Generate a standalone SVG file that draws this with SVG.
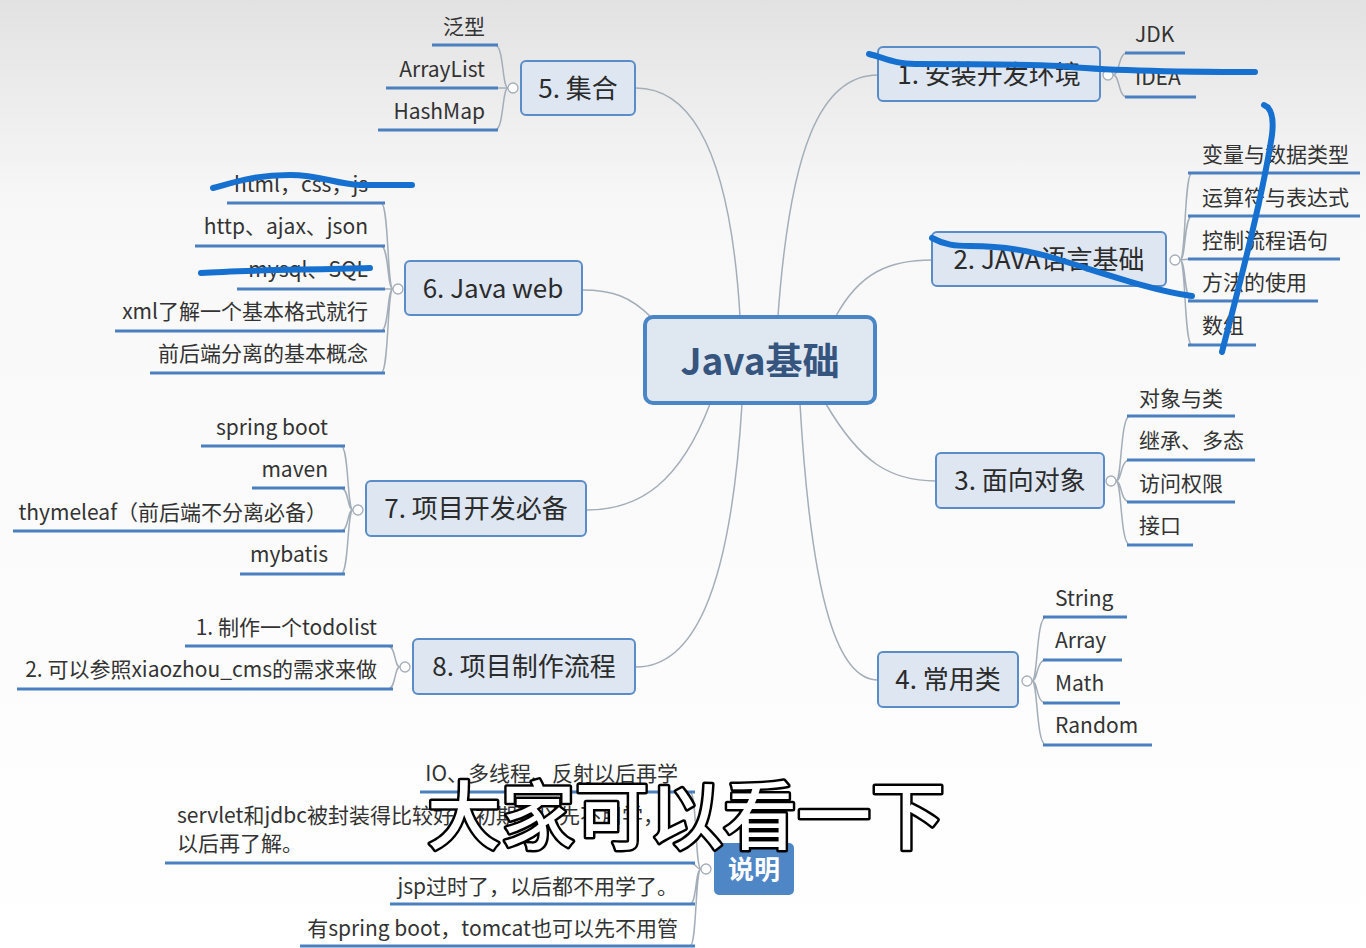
<svg xmlns="http://www.w3.org/2000/svg" width="1366" height="948" viewBox="0 0 1366 948">
<defs>
<linearGradient id="bg" x1="0" y1="0" x2="0" y2="1">
<stop offset="0" stop-color="#e2e2e2"/>
<stop offset="0.22" stop-color="#f8f8f8"/>
<stop offset="1" stop-color="#ffffff"/>
</linearGradient>
<style>
.main rect{fill:#dde6f1;stroke:#5a8dc8;stroke-width:2}
.mt{font-family:"Noto Sans CJK SC","Noto Sans",sans-serif;font-size:26px;fill:#2b2b2b;text-anchor:middle}
.lf{font-family:"Noto Sans CJK SC","Noto Sans",sans-serif;font-size:21px;fill:#333}
.e{text-anchor:end}
.ul{stroke:#4a7fc0;stroke-width:3;fill:none}
.br{stroke:#a4aeb9;stroke-width:1.5;fill:none}
.cn{stroke:#a4aeb9;stroke-width:1.5;fill:none}
.ci{fill:#fff;stroke:#a4aeb9;stroke-width:1.3}
.scr{stroke:#1570d0;stroke-width:6;fill:none;stroke-linecap:round;stroke-linejoin:round}
</style>
</defs>
<rect width="1366" height="948" fill="url(#bg)"/>

<g id="connectors">
<path class="cn" d="M778,316 C790,150 820,75 878,75"/>
<path class="cn" d="M836,316 C860,272 890,260 932,260"/>
<path class="cn" d="M826,404 C860,462 890,481 936,481"/>
<path class="cn" d="M800,404 C812,610 840,680 878,680"/>
<path class="cn" d="M740,316 C730,150 690,88 636,88"/>
<path class="cn" d="M652,318 C630,296 612,290 582,290"/>
<path class="cn" d="M710,404 C680,482 640,510 587,510"/>
<path class="cn" d="M742,404 C730,600 690,667 636,667"/>
</g>

<g id="center">
<rect x="645" y="317" width="230" height="86" rx="8" fill="#dfe7f1" stroke="#4a86c5" stroke-width="4"/>
<text x="760" y="375" font-family="Noto Sans CJK SC,Noto Sans,sans-serif" font-size="37" font-weight="bold" fill="#35557f" text-anchor="middle">Java基础</text>
</g>

<g id="n1" class="main">
<rect x="878" y="47" width="222" height="54" rx="5"/>
<text class="mt" x="989" y="84">1. 安装开发环境</text>
<circle class="ci" cx="1108" cy="75" r="5"/>
<path class="br" d="M1113,75 C1120,75 1118,53 1127,53 M1113,75 C1120,75 1118,97 1127,97"/>
<text class="lf" x="1135" y="42">JDK</text><path class="ul" d="M1125,53 H1185"/>
<text class="lf" x="1135" y="85">IDEA</text><path class="ul" d="M1125,97 H1196"/>
</g>

<g id="n2" class="main">
<rect x="932" y="232" width="234" height="54" rx="5"/>
<text class="mt" x="1049" y="269">2. JAVA语言基础</text>
<circle class="ci" cx="1175" cy="260" r="5"/>
<path class="br" d="M1180,260 C1186,260 1184,173 1192,173 M1180,260 C1186,260 1184,216 1192,216 M1180,260 C1186,260 1184,259 1192,259 M1180,260 C1186,260 1184,301 1192,301 M1180,260 C1186,260 1184,345 1192,345"/>
<text class="lf" x="1202" y="162">变量与数据类型</text><path class="ul" d="M1188,173 H1360"/>
<text class="lf" x="1202" y="205">运算符与表达式</text><path class="ul" d="M1188,216 H1360"/>
<text class="lf" x="1202" y="248">控制流程语句</text><path class="ul" d="M1188,259 H1340"/>
<text class="lf" x="1202" y="290">方法的使用</text><path class="ul" d="M1188,301 H1318"/>
<text class="lf" x="1202" y="333">数组</text><path class="ul" d="M1188,345 H1256"/>
</g>

<g id="n3" class="main">
<rect x="936" y="453" width="168" height="55" rx="5"/>
<text class="mt" x="1020" y="490">3. 面向对象</text>
<circle class="ci" cx="1111" cy="481" r="5"/>
<path class="br" d="M1116,481 C1122,481 1120,416 1130,416 M1116,481 C1122,481 1120,460 1130,460 M1116,481 C1122,481 1120,502 1130,502 M1116,481 C1122,481 1120,545 1130,545"/>
<text class="lf" x="1139" y="406">对象与类</text><path class="ul" d="M1127,416 H1235"/>
<text class="lf" x="1139" y="448">继承、多态</text><path class="ul" d="M1127,460 H1255"/>
<text class="lf" x="1139" y="491">访问权限</text><path class="ul" d="M1127,502 H1235"/>
<text class="lf" x="1139" y="533">接口</text><path class="ul" d="M1127,545 H1193"/>
</g>

<g id="n4" class="main">
<rect x="878" y="652" width="140" height="55" rx="5"/>
<text class="mt" x="948" y="689">4. 常用类</text>
<circle class="ci" cx="1027" cy="681" r="5"/>
<path class="br" d="M1032,681 C1038,681 1036,617 1046,617 M1032,681 C1038,681 1036,660 1046,660 M1032,681 C1038,681 1036,703 1046,703 M1032,681 C1038,681 1036,745 1046,745"/>
<text class="lf" x="1055" y="606">String</text><path class="ul" d="M1043,617 H1127"/>
<text class="lf" x="1055" y="648">Array</text><path class="ul" d="M1043,660 H1122"/>
<text class="lf" x="1055" y="691">Math</text><path class="ul" d="M1043,703 H1120"/>
<text class="lf" x="1055" y="733">Random</text><path class="ul" d="M1043,745 H1152"/>
</g>

<g id="n5" class="main">
<rect x="521" y="61" width="114" height="54" rx="5"/>
<text class="mt" x="578" y="98">5. 集合</text>
<circle class="ci" cx="513" cy="88" r="5"/>
<path class="br" d="M508,88 C502,88 504,45 495,45 M508,88 C502,88 504,88 495,88 M508,88 C502,88 504,130 495,130"/>
<text class="lf e" x="485" y="34">泛型</text><path class="ul" d="M432,45 H498"/>
<text class="lf e" x="485" y="77">ArrayList</text><path class="ul" d="M386,88 H498"/>
<text class="lf e" x="485" y="119">HashMap</text><path class="ul" d="M378,130 H498"/>
</g>

<g id="n6" class="main">
<rect x="405" y="261" width="177" height="54" rx="5"/>
<text class="mt" x="493" y="298">6. Java web</text>
<circle class="ci" cx="398" cy="289" r="5"/>
<path class="br" d="M393,289 C387,289 389,203 381,203 M393,289 C387,289 389,246 381,246 M393,289 C387,289 389,289 381,289 M393,289 C387,289 389,331 381,331 M393,289 C387,289 389,373 381,373"/>
<text class="lf e" x="368" y="192">html，css，js</text><path class="ul" d="M227,203 H385"/>
<text class="lf e" x="368" y="234">http、ajax、json</text><path class="ul" d="M195,246 H385"/>
<text class="lf e" x="368" y="277">mysql、SQL</text><path class="ul" d="M237,289 H385"/>
<text class="lf e" x="368" y="319">xml了解一个基本格式就行</text><path class="ul" d="M115,331 H385"/>
<text class="lf e" x="368" y="361">前后端分离的基本概念</text><path class="ul" d="M150,373 H385"/>
</g>

<g id="n7" class="main">
<rect x="366" y="481" width="220" height="55" rx="5"/>
<text class="mt" x="476" y="518">7. 项目开发必备</text>
<circle class="ci" cx="358" cy="510" r="5"/>
<path class="br" d="M353,510 C347,510 349,446 341,446 M353,510 C347,510 349,488 341,488 M353,510 C347,510 349,531 341,531 M353,510 C347,510 349,574 341,574"/>
<text class="lf e" x="328" y="435">spring boot</text><path class="ul" d="M201,446 H345"/>
<text class="lf e" x="328" y="477">maven</text><path class="ul" d="M252,488 H345"/>
<text class="lf e" x="327" y="520">thymeleaf（前后端不分离必备）</text><path class="ul" d="M13,531 H345"/>
<text class="lf e" x="328" y="562">mybatis</text><path class="ul" d="M240,574 H345"/>
</g>

<g id="n8" class="main">
<rect x="413" y="639" width="222" height="55" rx="5"/>
<text class="mt" x="524" y="676">8. 项目制作流程</text>
<circle class="ci" cx="405" cy="667" r="5"/>
<path class="br" d="M400,667 C394,667 396,646 388,646 M400,667 C394,667 396,689 388,689"/>
<text class="lf e" x="377" y="635" font-size="20">1. 制作一个todolist</text><path class="ul" d="M185,646 H393"/>
<text class="lf e" x="377" y="677" font-size="20">2. 可以参照xiaozhou_cms的需求来做</text><path class="ul" d="M17,689 H393"/>
</g>

<g id="note">
<rect x="714" y="843" width="80" height="52" rx="5" fill="#4f86c6"/>
<text x="754" y="879" font-family="Noto Sans CJK SC,Noto Sans,sans-serif" font-size="26" font-weight="bold" fill="#ffffff" text-anchor="middle">说明</text>
<circle class="ci" cx="706" cy="869" r="5"/>
<path class="br" d="M701,869 C695,869 697,792 690,792 M701,869 C695,869 697,863 690,863 M701,869 C695,869 697,904 690,904 M701,869 C695,869 697,946 690,946"/>
<text class="lf e" x="678" y="781" font-size="20">IO、多线程、反射以后再学</text><path class="ul" d="M420,792 H695"/>
<text class="lf" x="177" y="823" font-size="20">servlet和jdbc被封装得比较好，初期可以先不用学，</text>
<text class="lf" x="177" y="851" font-size="20">以后再了解。</text><path class="ul" d="M165,863 H695"/>
<text class="lf e" x="678" y="894" font-size="20">jsp过时了，以后都不用学了。</text><path class="ul" d="M390,904 H695"/>
<text class="lf e" x="678" y="936" font-size="20">有spring boot，tomcat也可以先不用管</text><path class="ul" d="M300,946 H695"/>
</g>

<g id="scribbles">
<path class="scr" d="M869,54 C885,58 895,64 915,64 C960,64 1020,64 1060,66 C1100,70 1180,72 1255,72"/>
<path class="scr" d="M1264,105 C1272,108 1274,118 1272,135 C1262,200 1238,290 1222,352"/>
<path class="scr" d="M932,238 C945,245 955,246 970,246 C1000,246 1030,250 1060,260 C1100,272 1150,290 1192,296"/>
<path class="scr" d="M213,188 C235,182 255,175 290,175 C320,175 335,184 360,185 L412,185"/>
<path class="scr" d="M201,273 C240,270 300,270 370,268"/>
</g>

<text x="686" y="843" font-family="Noto Sans CJK SC,Noto Sans,sans-serif" font-size="74" font-weight="500" fill="#ffffff" stroke="#000000" stroke-width="5" stroke-linejoin="round" paint-order="stroke" text-anchor="middle">大家可以看一下</text>
</svg>
